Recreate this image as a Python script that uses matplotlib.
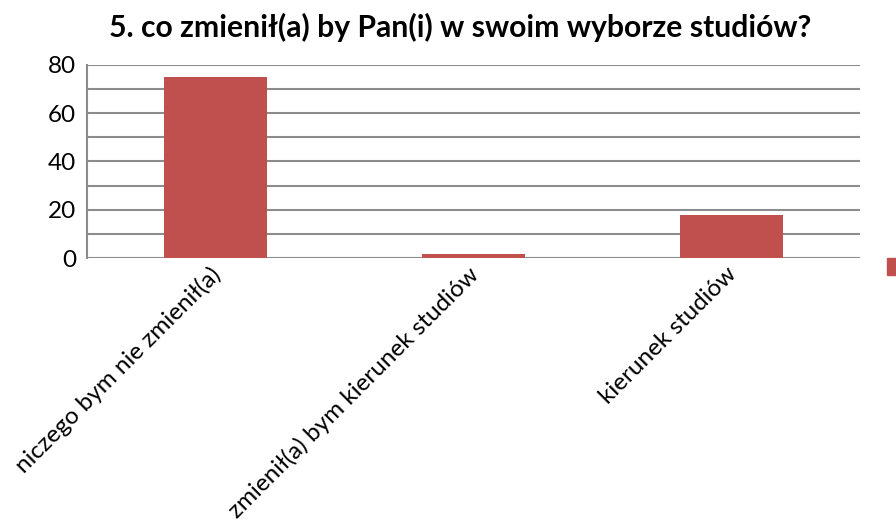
import matplotlib.pyplot as plt
import matplotlib.transforms as mtransforms
from matplotlib.patches import Rectangle

# data
categories = ["niczego bym nie zmienił(a)", "zmienił(a) bym kierunek studiów", "kierunek studiów"]
values = [75, 1.5, 18]
y_ticks = [0, 20, 40, 60, 80]

bar_color = "#C0504D"
grid_color = "#8C8C8C"

plt.rcParams['font.family'] = ['Lato', 'DejaVu Sans']

fig = plt.figure(figsize=(8.96, 5.24), dpi=100)
ax = fig.add_axes([0.0971, 0.5076, 0.8627, 0.3684])

x = range(len(categories))
ax.bar(x, values, width=0.4, color=bar_color, zorder=3)

ax.set_xlim(-0.5, len(categories) - 0.5)
ax.set_ylim(0, 80)
ax.set_yticks(y_ticks)
ax.set_yticks(range(0, 81, 10), minor=True)
ax.tick_params(axis='y', which='both', length=0, labelsize=17.5, pad=8)
ax.tick_params(axis='x', length=0, labelsize=17.5, pad=2)
ax.grid(axis='y', which='both', color=grid_color, linewidth=1.5, zorder=0)

ax.set_xticks(list(x))
ax.set_xticklabels(categories, rotation=45, ha='right', rotation_mode='anchor')
# nudge the rotated labels a little left/down
shift = mtransforms.ScaledTranslation(-6 / 100, -3 / 100, fig.dpi_scale_trans)
for lbl in ax.get_xticklabels():
    lbl.set_transform(lbl.get_transform() + shift)

for side in ['top', 'right', 'bottom']:
    ax.spines[side].set_visible(False)
ax.spines['left'].set_color(grid_color)
ax.spines['left'].set_linewidth(1.5)

ax.set_title("5. co zmienił(a) by Pan(i) w swoim wyborze studiów?",
             fontsize=21.7, fontweight='bold', pad=20, x=0.4825)

# legend marker, clipped at right edge like the original
fig.patches.append(Rectangle((887 / 896, (524 - 275) / 524), 12 / 896, 17 / 524,
                             transform=fig.transFigure, color=bar_color))

fig.savefig("out.png", dpi=100)
